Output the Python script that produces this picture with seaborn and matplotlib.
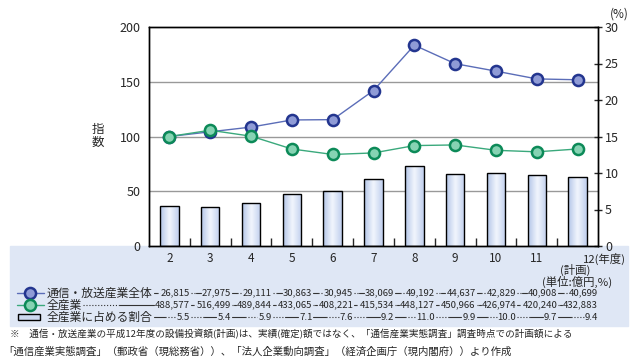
import numpy as np
import matplotlib
matplotlib.use("Agg")
import matplotlib.pyplot as plt
from matplotlib.colors import LinearSegmentedColormap
from matplotlib.lines import Line2D
from matplotlib.patches import Rectangle
import seaborn as sns

# Data (fiscal years, Heisei)
years = ["2", "3", "4", "5", "6", "7", "8", "9", "10", "11", "12"]
telecom_invest = ["26,815", "27,975", "29,111", "30,863", "30,945", "38,069",
                  "49,192", "44,637", "42,829", "40,908", "40,699"]
all_invest = ["488,577", "516,499", "489,844", "433,065", "408,221", "415,534",
              "448,127", "450,966", "426,974", "420,240", "432,883"]
share = [5.5, 5.4, 5.9, 7.1, 7.6, 9.2, 11.0, 9.9, 10.0, 9.7, 9.4]
telecom_index = [100.0, 104.3, 108.6, 115.1, 115.4, 142.0, 183.4, 166.5, 159.7, 152.6, 151.8]
all_index = [100.0, 105.7, 100.3, 88.6, 83.6, 85.0, 91.7, 92.3, 87.4, 86.0, 88.6]
index_grid = [50, 100, 150]

row_labels = ["通信・放送産業全体", "全産業", "全産業に占める割合"]
note1 = "※　通信・放送産業の平成12年度の設備投資額(計画)は、実績(確定)額ではなく、「通信産業実態調査」調査時点での計画額による"
note2 = "「通信産業実態調査」（郵政省（現総務省））、「法人企業動向調査」（経済企画庁（現内閣府））より作成"

sns.set_style("ticks")
plt.rcParams["font.family"] = ["Noto Sans CJK JP", "DejaVu Sans"]

W, H = 636, 360
def fx(px):
    return px / W
def fy(py):
    return 1 - py / H

blue_line = "#5b6db8"
blue_edge = "#23358f"
blue_face = "#8f9bd6"
green_line = "#3aa97c"
green_edge = "#0c8a58"
green_face = "#86d3b3"
band = "#dfe7f5"

fig = plt.figure(figsize=(6.36, 3.6), dpi=100)
fig.patches.append(Rectangle((fx(10), fy(326)), fx(628) - fx(10), (326 - 246) / H,
                             transform=fig.transFigure, color=band, zorder=-1))

ax = fig.add_axes([fx(149), fy(246), (598 - 149) / W, (246 - 27) / H])

# bars -> percent axis (right side)
sns.barplot(x=years, y=share, ax=ax, color="#c9d6ef", saturation=1,
            edgecolor="black", linewidth=1, width=0.45, zorder=2)
bar_cmap = LinearSegmentedColormap.from_list("bar", ["#b3c5e8", "#f2f6fd", "#c0cfee"])
grad = np.linspace(0, 1, 64).reshape(1, -1)
for p in list(ax.patches):
    x0, y0, w, h = p.get_x(), p.get_y(), p.get_width(), p.get_height()
    im = ax.imshow(grad, extent=[x0, x0 + w, y0, y0 + h], aspect="auto",
                   cmap=bar_cmap, zorder=1.9, interpolation="bicubic")
    im.set_clip_path(p)
    p.set_facecolor("none")
    p.set_zorder(2.1)

for g in index_grid:
    ax.axhline(g * 30 / 200, color="#999999", lw=1, zorder=0.5)

ax.set_xlim(-0.5, 10.5)
ax.set_ylim(0, 30)
ax.set_yticks(range(0, 31, 5))
ax.set_xticks(range(11))
ax.set_xticklabels(years[:-1] + [""])
ax.set_xticks(np.arange(0.5, 10, 1), minor=True)
ax.tick_params(axis="x", which="major", length=0, labelsize=8.5, pad=4)
ax.tick_params(axis="x", which="minor", direction="in", length=6, width=1)
ax.set_xlabel("")
ax.set_ylabel("")

# lines -> index axis (left side)
ax2 = ax.twinx()
sns.pointplot(x=years, y=telecom_index, ax=ax2, color=blue_line, markers="o",
              linewidth=1, markersize=8, markeredgewidth=1.8,
              markerfacecolor=blue_face, markeredgecolor=blue_edge)
sns.pointplot(x=years, y=all_index, ax=ax2, color=green_line, markers="o",
              linewidth=1, markersize=8, markeredgewidth=1.8,
              markerfacecolor=green_face, markeredgecolor=green_edge)
ax2.set_ylim(0, 200)
ax2.set_yticks(range(0, 201, 50))
ax2.set_xlim(-0.5, 10.5)
ax2.set_xlabel("")
ax2.set_ylabel("")

# twinx puts the first axis on the left, so swap sides afterwards
ax.yaxis.tick_right()
ax.tick_params(axis="y", direction="inout", length=6, width=1, labelsize=9, pad=2)
ax2.yaxis.tick_left()
ax2.tick_params(axis="y", length=0, labelsize=9, pad=6)
for a in (ax, ax2):
    for s in a.spines.values():
        s.set_color("black")
        s.set_linewidth(1)
        s.set_visible(True)

fig.text(fx(98), fy(136), "指\n数", ha="center", va="center", fontsize=9, linespacing=1.0)
fig.text(fx(619), fy(14), "(%)", ha="center", va="center", fontsize=8.5)
fig.text(fx(583), fy(259), "12(年度)", ha="left", va="center", fontsize=8.2)
fig.text(fx(575), fy(270), "(計画)", ha="center", va="center", fontsize=8.2)
fig.text(fx(577), fy(282), "(単位:億円,%)", ha="center", va="center", fontsize=8.2)

# table rows
row_y = [293, 305, 317]
col_right = [190 + 40.8 * i for i in range(11)]
rows = [telecom_invest, all_invest, [f"{v:.1f}" for v in share]]

# legend keys
for y, lc, ec, fc in [(row_y[0], blue_line, blue_edge, blue_face),
                      (row_y[1], green_line, green_edge, green_face)]:
    fig.add_artist(Line2D([fx(17), fx(44)], [fy(y), fy(y)], color=lc, lw=1,
                          transform=fig.transFigure))
    fig.add_artist(Line2D([fx(30)], [fy(y)], marker="o", markersize=8, markeredgewidth=1.8,
                          markerfacecolor=fc, markeredgecolor=ec, transform=fig.transFigure))
fig.patches.append(Rectangle((fx(18), fy(row_y[2] + 3)), fx(40) - fx(18), 6 / H,
                             transform=fig.transFigure, facecolor="#cdd9f0",
                             edgecolor="black", lw=1))

texts = []
for r, (label, vals) in enumerate(zip(row_labels, rows)):
    items = [fig.text(fx(47), fy(row_y[r]), label, ha="left", va="center", fontsize=8.5)]
    for c, v in enumerate(vals):
        items.append(fig.text(fx(col_right[c]), fy(row_y[r]), v, ha="right",
                              va="center", fontsize=6.9))
    texts.append(items)

fig.text(fx(10), fy(334), note1, ha="left", va="center", fontsize=6.9)
fig.text(fx(3), fy(352), note2, ha="left", va="center", fontsize=7.5)

# leader lines between the table entries
fig.canvas.draw()
renderer = fig.canvas.get_renderer()
for r, items in enumerate(texts):
    y = fy(row_y[r])
    for i in range(1, len(items)):
        a = items[i - 1].get_window_extent(renderer).x1 + 1
        b = items[i].get_window_extent(renderer).x0 - 1
        if b - a < 2:
            continue
        m = (a + b) / 2
        first, second = ("-", ":") if (i + r) % 2 else (":", "-")
        fig.add_artist(Line2D([fx(a), fx(m)], [y, y], color="#333333", lw=0.8,
                              ls=first, transform=fig.transFigure))
        fig.add_artist(Line2D([fx(m), fx(b)], [y, y], color="#333333", lw=0.8,
                              ls=second, transform=fig.transFigure))

fig.savefig("out.png", dpi=100)
